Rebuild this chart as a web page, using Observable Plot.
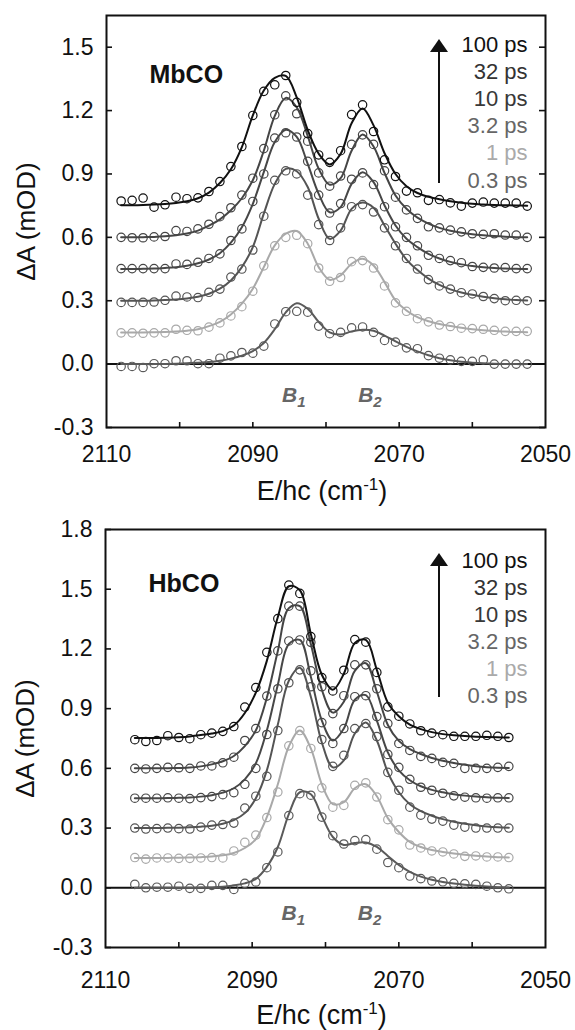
<!DOCTYPE html>
<html><head><meta charset="utf-8">
<script src="https://cdn.jsdelivr.net/npm/d3@7"></script>
<script src="https://cdn.jsdelivr.net/npm/@observablehq/plot@0.6"></script>
<style>
body{margin:0;background:#fff;}
#chart{width:575px;}
#chart svg{display:block;}
</style></head><body><div id="chart"></div>
<script>
// ---------- data ----------
const delays = ["100 ps", "32 ps", "10 ps", "3.2 ps", "1 ps", "0.3 ps"];
const xLabelTicks = [2110, 2090, 2070, 2050];
const xMinorTicks = [2100, 2090, 2080, 2070, 2060];
const mbYTicks = [-0.3, 0, 0.3, 0.6, 0.9, 1.2, 1.5];
const hbYTicks = [-0.3, 0, 0.3, 0.6, 0.9, 1.2, 1.5, 1.8];

// MbCO wavenumbers (cm-1)
const mbX = [2108, 2106.5, 2105, 2103.5, 2102, 2100.5, 2099, 2097.5, 2096, 2094.5, 2093, 2091.5, 2090, 2088.5, 2087, 2085.5, 2084, 2082.5, 2081, 2079.5, 2078, 2076.5, 2075, 2073.5, 2072, 2070.5, 2069, 2067.5, 2066, 2064.5, 2063, 2061.5, 2060, 2058.5, 2057, 2055.5, 2054, 2052.5];
// MbCO measured points (offset spectra), one array per delay
const mb100 = [0.772, 0.775, 0.786, 0.743, 0.754, 0.790, 0.783, 0.787, 0.817, 0.864, 0.935, 1.030, 1.177, 1.291, 1.322, 1.366, 1.239, 1.091, 0.990, 0.955, 1.010, 1.181, 1.227, 1.101, 0.967, 0.888, 0.819, 0.811, 0.775, 0.779, 0.763, 0.748, 0.762, 0.767, 0.762, 0.762, 0.762, 0.748];
const mb32 = [0.600, 0.598, 0.598, 0.602, 0.604, 0.632, 0.628, 0.640, 0.662, 0.698, 0.740, 0.800, 0.880, 1.020, 1.180, 1.270, 1.185, 1.055, 0.905, 0.842, 0.890, 1.040, 1.085, 1.040, 0.915, 0.790, 0.730, 0.690, 0.650, 0.645, 0.634, 0.626, 0.617, 0.614, 0.617, 0.611, 0.611, 0.600];
const mb10 = [0.452, 0.452, 0.452, 0.452, 0.452, 0.474, 0.472, 0.482, 0.500, 0.522, 0.585, 0.640, 0.770, 0.900, 1.070, 1.095, 1.075, 0.960, 0.800, 0.715, 0.760, 0.875, 0.905, 0.850, 0.745, 0.650, 0.600, 0.560, 0.515, 0.500, 0.490, 0.480, 0.462, 0.458, 0.455, 0.457, 0.452, 0.452];
const mb3p2 = [0.292, 0.292, 0.292, 0.294, 0.302, 0.322, 0.318, 0.315, 0.340, 0.355, 0.412, 0.450, 0.540, 0.700, 0.870, 0.915, 0.900, 0.800, 0.660, 0.585, 0.645, 0.745, 0.755, 0.720, 0.645, 0.560, 0.500, 0.450, 0.400, 0.370, 0.355, 0.338, 0.332, 0.320, 0.310, 0.300, 0.302, 0.300];
const mb1 = [0.148, 0.148, 0.146, 0.148, 0.148, 0.165, 0.160, 0.158, 0.175, 0.195, 0.228, 0.272, 0.345, 0.465, 0.560, 0.600, 0.610, 0.570, 0.455, 0.392, 0.410, 0.485, 0.490, 0.455, 0.370, 0.290, 0.250, 0.215, 0.200, 0.185, 0.178, 0.170, 0.168, 0.165, 0.160, 0.155, 0.155, 0.155];
const mb0p3 = [-0.011, -0.011, -0.016, 0.002, 0.002, 0.016, 0.016, 0.002, 0.002, 0.028, 0.039, 0.055, 0.052, 0.085, 0.190, 0.248, 0.250, 0.246, 0.180, 0.144, 0.150, 0.172, 0.176, 0.150, 0.112, 0.104, 0.077, 0.073, 0.040, 0.028, 0.020, 0.013, 0.013, 0.020, 0.000, 0.000, 0.000, 0.000];
// MbCO fitted curves
const mb100Fit = [0.752, 0.752, 0.753, 0.755, 0.758, 0.763, 0.771, 0.785, 0.812, 0.857, 0.922, 1.027, 1.177, 1.295, 1.355, 1.364, 1.262, 1.108, 0.996, 0.945, 0.995, 1.140, 1.210, 1.130, 0.998, 0.900, 0.842, 0.810, 0.792, 0.780, 0.771, 0.764, 0.759, 0.755, 0.753, 0.752, 0.751, 0.750];
const mb32Fit = [0.600, 0.600, 0.601, 0.602, 0.605, 0.610, 0.618, 0.632, 0.655, 0.685, 0.728, 0.785, 0.870, 1.010, 1.175, 1.260, 1.215, 1.080, 0.925, 0.849, 0.880, 1.010, 1.087, 1.030, 0.905, 0.798, 0.735, 0.693, 0.665, 0.645, 0.631, 0.622, 0.615, 0.610, 0.606, 0.603, 0.601, 0.600];
const mb10Fit = [0.450, 0.450, 0.451, 0.452, 0.455, 0.459, 0.466, 0.477, 0.495, 0.525, 0.575, 0.648, 0.759, 0.909, 1.051, 1.109, 1.075, 0.948, 0.806, 0.719, 0.743, 0.853, 0.908, 0.861, 0.751, 0.656, 0.593, 0.554, 0.522, 0.500, 0.484, 0.472, 0.464, 0.458, 0.455, 0.452, 0.451, 0.450];
const mb3p2Fit = [0.300, 0.300, 0.300, 0.301, 0.303, 0.306, 0.311, 0.319, 0.333, 0.357, 0.396, 0.459, 0.554, 0.712, 0.853, 0.924, 0.913, 0.838, 0.688, 0.593, 0.632, 0.735, 0.765, 0.740, 0.656, 0.570, 0.495, 0.445, 0.405, 0.375, 0.354, 0.339, 0.328, 0.319, 0.312, 0.307, 0.303, 0.301];
const mb1Fit = [0.150, 0.150, 0.150, 0.151, 0.152, 0.154, 0.158, 0.165, 0.180, 0.200, 0.235, 0.286, 0.357, 0.459, 0.562, 0.617, 0.630, 0.570, 0.459, 0.399, 0.420, 0.475, 0.499, 0.467, 0.388, 0.302, 0.254, 0.222, 0.203, 0.190, 0.180, 0.172, 0.165, 0.160, 0.157, 0.154, 0.152, 0.151];
const mb0p3Fit = [0.000, 0.000, 0.000, 0.000, 0.001, 0.002, 0.004, 0.007, 0.010, 0.016, 0.026, 0.040, 0.062, 0.100, 0.165, 0.245, 0.288, 0.262, 0.200, 0.150, 0.140, 0.155, 0.163, 0.158, 0.135, 0.108, 0.082, 0.060, 0.042, 0.028, 0.018, 0.011, 0.007, 0.004, 0.002, 0.001, 0.000, 0.000];

// HbCO wavenumbers (cm-1)
const hbX = [2106, 2104.5, 2103, 2101.5, 2100, 2098.5, 2097, 2095.5, 2094, 2092.5, 2091, 2089.5, 2088, 2086.5, 2085, 2083.5, 2082, 2080.5, 2079, 2077.5, 2076, 2074.5, 2073, 2071.5, 2070, 2068.5, 2067, 2065.5, 2064, 2062.5, 2061, 2059.5, 2058, 2056.5, 2055];
const hb100 = [0.744, 0.735, 0.740, 0.764, 0.755, 0.749, 0.769, 0.777, 0.786, 0.810, 0.908, 1.006, 1.183, 1.352, 1.521, 1.479, 1.262, 1.056, 0.989, 1.093, 1.247, 1.234, 1.082, 0.909, 0.862, 0.823, 0.789, 0.777, 0.769, 0.761, 0.761, 0.761, 0.766, 0.761, 0.755];
const hb32 = [0.600, 0.597, 0.600, 0.605, 0.603, 0.600, 0.612, 0.612, 0.628, 0.656, 0.740, 0.800, 0.963, 1.190, 1.415, 1.415, 1.233, 1.010, 0.875, 0.965, 1.120, 1.120, 1.000, 0.825, 0.725, 0.690, 0.660, 0.650, 0.630, 0.625, 0.600, 0.600, 0.600, 0.605, 0.610];
const hb10 = [0.450, 0.450, 0.450, 0.452, 0.450, 0.448, 0.453, 0.458, 0.468, 0.478, 0.520, 0.600, 0.770, 1.000, 1.240, 1.245, 1.090, 0.830, 0.725, 0.800, 0.960, 0.965, 0.860, 0.670, 0.605, 0.545, 0.505, 0.490, 0.475, 0.462, 0.455, 0.452, 0.450, 0.452, 0.452];
const hb3p2 = [0.300, 0.295, 0.297, 0.300, 0.297, 0.295, 0.305, 0.315, 0.318, 0.325, 0.400, 0.460, 0.560, 0.790, 1.030, 1.095, 1.010, 0.745, 0.610, 0.665, 0.800, 0.825, 0.760, 0.580, 0.490, 0.405, 0.365, 0.345, 0.335, 0.315, 0.305, 0.300, 0.300, 0.300, 0.300];
const hb1 = [0.152, 0.144, 0.150, 0.150, 0.148, 0.148, 0.150, 0.152, 0.150, 0.185, 0.228, 0.265, 0.353, 0.481, 0.713, 0.790, 0.700, 0.502, 0.405, 0.414, 0.515, 0.527, 0.456, 0.342, 0.291, 0.215, 0.200, 0.185, 0.180, 0.170, 0.158, 0.160, 0.155, 0.155, 0.152];
const hb0p3 = [0.017, 0.000, 0.003, 0.003, 0.008, -0.003, -0.003, 0.012, 0.012, -0.008, 0.022, 0.029, 0.101, 0.180, 0.363, 0.473, 0.465, 0.355, 0.262, 0.220, 0.237, 0.242, 0.194, 0.127, 0.101, 0.059, 0.046, 0.034, 0.030, 0.022, 0.020, 0.017, 0.008, 0.000, -0.005];
const hb100Fit = [0.752, 0.752, 0.753, 0.754, 0.756, 0.760, 0.768, 0.775, 0.787, 0.815, 0.878, 0.980, 1.140, 1.360, 1.515, 1.495, 1.275, 1.070, 0.995, 1.075, 1.230, 1.245, 1.095, 0.930, 0.862, 0.820, 0.797, 0.782, 0.772, 0.766, 0.762, 0.759, 0.757, 0.756, 0.755];
const hb32Fit = [0.600, 0.600, 0.600, 0.601, 0.602, 0.604, 0.610, 0.620, 0.636, 0.662, 0.712, 0.790, 0.955, 1.190, 1.405, 1.415, 1.225, 0.995, 0.880, 0.935, 1.090, 1.128, 0.985, 0.818, 0.738, 0.697, 0.672, 0.652, 0.638, 0.627, 0.618, 0.611, 0.606, 0.603, 0.602];
const hb10Fit = [0.450, 0.450, 0.450, 0.451, 0.452, 0.454, 0.458, 0.465, 0.478, 0.500, 0.545, 0.625, 0.790, 1.020, 1.225, 1.245, 1.060, 0.840, 0.740, 0.800, 0.945, 0.968, 0.840, 0.680, 0.590, 0.540, 0.510, 0.492, 0.480, 0.470, 0.463, 0.458, 0.455, 0.452, 0.451];
const hb3p2Fit = [0.300, 0.300, 0.300, 0.301, 0.302, 0.304, 0.307, 0.312, 0.322, 0.340, 0.375, 0.450, 0.590, 0.820, 1.040, 1.105, 0.960, 0.730, 0.605, 0.640, 0.775, 0.830, 0.740, 0.580, 0.480, 0.420, 0.385, 0.362, 0.345, 0.332, 0.322, 0.314, 0.308, 0.304, 0.302];
const hb1Fit = [0.150, 0.150, 0.150, 0.150, 0.151, 0.152, 0.154, 0.157, 0.163, 0.175, 0.200, 0.245, 0.355, 0.520, 0.710, 0.790, 0.700, 0.520, 0.420, 0.430, 0.500, 0.520, 0.460, 0.350, 0.280, 0.230, 0.205, 0.190, 0.180, 0.172, 0.166, 0.161, 0.157, 0.154, 0.152];
const hb0p3Fit = [0.000, 0.000, 0.000, 0.000, 0.000, 0.000, 0.001, 0.002, 0.005, 0.012, 0.022, 0.045, 0.105, 0.205, 0.370, 0.480, 0.470, 0.360, 0.255, 0.215, 0.225, 0.228, 0.205, 0.160, 0.115, 0.080, 0.056, 0.040, 0.029, 0.021, 0.015, 0.010, 0.006, 0.003, 0.001];

// band annotations (wavenumber, ΔA)
const mbBands = [{name: "B1", x: 2086.0, y: -0.18}, {name: "B2", x: 2075.6, y: -0.18}];
const hbBands = [{name: "B1", x: 2086.0, y: -0.16}, {name: "B2", x: 2075.6, y: -0.16}];

// ---------- style ----------
const FONT = "'Liberation Sans', Arial, Helvetica, sans-serif";
const seriesColors = ["#111111", "#454545", "#474747", "#545454", "#a9a9a9", "#5a5a5a"];
const legendColors = ["#111111", "#333333", "#383838", "#666666", "#aaaaaa", "#666666"];

function buildPanel(cfg) {
  const W = 575, H = 515;
  const innerW = W - cfg.marginLeft - cfg.marginRight;
  const innerH = H - cfg.marginTop - cfg.marginBottom;
  const marks = [
    Plot.ruleY([0], {stroke: "#111", strokeWidth: 2}),
    Plot.tickX(xMinorTicks, {x: d => d, stroke: "#111", strokeWidth: 1.6, insetTop: innerH - 5}),
    Plot.tickY(cfg.yTicks, {y: d => d, stroke: "#111", strokeWidth: 1.6, insetRight: innerW - 6})
  ];
  if (cfg.rightTicks) marks.push(Plot.tickY(cfg.yTicks, {y: d => d, stroke: "#111", strokeWidth: 1.6, insetLeft: innerW - 6}));
  // draw from lowest trace to top so the black trace is on top
  for (let s = delays.length - 1; s >= 0; s--) {
    const fitRows = cfg.x.map((wn, i) => ({wn, v: cfg.fits[s][i]}));
    const ptRows = cfg.x.map((wn, i) => ({wn, v: cfg.points[s][i]}));
    marks.push(Plot.line(fitRows, {x: "wn", y: "v", curve: "catmull-rom", stroke: seriesColors[s], strokeWidth: 2}));
    marks.push(Plot.dot(ptRows, {x: "wn", y: "v", r: 4.2, stroke: seriesColors[s], strokeWidth: 1.2, fill: "none"}));
  }
  marks.push(
    Plot.frame({stroke: "#111", strokeWidth: 2}),
    Plot.axisX(xLabelTicks, {tickSize: 0, tickPadding: cfg.xPad, fontSize: 23, tickFormat: d => String(d), label: null}),
    Plot.axisY(cfg.yTicks, {tickSize: 0, tickPadding: 13, fontSize: 23, tickFormat: d => d.toFixed(1), label: null}),
    Plot.text(["ΔA (mOD)"], {text: d => d, frameAnchor: "left", rotate: -90, dx: -80, textAnchor: "middle", lineAnchor: "middle", fontSize: 26, fill: "#111"}),
    Plot.text(["E/hc (cm-1)"], {text: d => d, frameAnchor: "bottom", dx: -4, dy: cfg.titleDy, textAnchor: "middle", lineAnchor: "bottom", fontSize: 27, fill: "#111"}),
    Plot.text([cfg.name], {text: d => d, frameAnchor: "top-left", dx: 43, dy: cfg.nameDy, textAnchor: "start", lineAnchor: "middle", fontWeight: "bold", fontSize: 25, fill: "#111"}),
    Plot.text(cfg.bands, {x: "x", y: "y", text: "name", textAnchor: "start", lineAnchor: "bottom", fontWeight: "bold", fontStyle: "italic", fontSize: 21, fill: "#666"})
  );
  delays.forEach((d, i) => {
    marks.push(Plot.text([d], {text: t => t, frameAnchor: "top-right", dx: -18, dy: cfg.legendTop + i * 27.1, textAnchor: "end", lineAnchor: "middle", fontSize: 22, fill: legendColors[i]}));
  });
  const svg = Plot.plot({
    width: W, height: H,
    marginTop: cfg.marginTop, marginBottom: cfg.marginBottom, marginLeft: cfg.marginLeft, marginRight: cfg.marginRight,
    x: {domain: [2110, 2050]},
    y: {domain: cfg.yDomain},
    style: {fontFamily: FONT, fontSize: "22px", color: "#111", background: "#fff"},
    marks
  });
  // superscript / subscript and legend arrow
  d3.select(svg).selectAll("text").each(function () {
    const t = d3.select(this);
    const s = this.textContent;
    if (s === "E/hc (cm-1)") {
      t.text("E/hc (cm");
      t.append("tspan").attr("dy", -10).attr("font-size", 17).text("-1");
      t.append("tspan").attr("dy", 10).attr("font-size", 27).text(")");
    } else if (s === "B1" || s === "B2") {
      t.text("B");
      t.append("tspan").attr("dy", 5).attr("font-size", 15).text(s[1]);
    }
  });
  const ax = W - cfg.marginRight - 106;
  const top = cfg.marginTop;
  const g = d3.select(svg).append("g").attr("fill", "#111").attr("stroke", "#111");
  g.append("line").attr("x1", ax).attr("x2", ax).attr("y1", top + 168).attr("y2", top + 36).attr("stroke-width", 2);
  g.append("path").attr("stroke", "none").attr("d", `M${ax},${top + 24}L${ax + 9},${top + 37}L${ax - 9},${top + 37}Z`);
  return svg;
}

const chart = document.getElementById("chart");
chart.appendChild(buildPanel({
  name: "MbCO", x: mbX,
  points: [mb100, mb32, mb10, mb3p2, mb1, mb0p3],
  fits: [mb100Fit, mb32Fit, mb10Fit, mb3p2Fit, mb1Fit, mb0p3Fit],
  yDomain: [-0.3, 1.65], yTicks: mbYTicks, rightTicks: true,
  marginTop: 15, marginBottom: 88, marginLeft: 106, marginRight: 30,
  xPad: 18, titleDy: 72, nameDy: 59, legendTop: 29.5, bands: mbBands
}));
chart.appendChild(buildPanel({
  name: "HbCO", x: hbX,
  points: [hb100, hb32, hb10, hb3p2, hb1, hb0p3],
  fits: [hb100Fit, hb32Fit, hb10Fit, hb3p2Fit, hb1Fit, hb0p3Fit],
  yDomain: [-0.3, 1.8], yTicks: hbYTicks, rightTicks: false,
  marginTop: 14, marginBottom: 83, marginLeft: 105, marginRight: 30,
  xPad: 24, titleDy: 76, nameDy: 54, legendTop: 31, bands: hbBands
}));
</script>
</body></html>
